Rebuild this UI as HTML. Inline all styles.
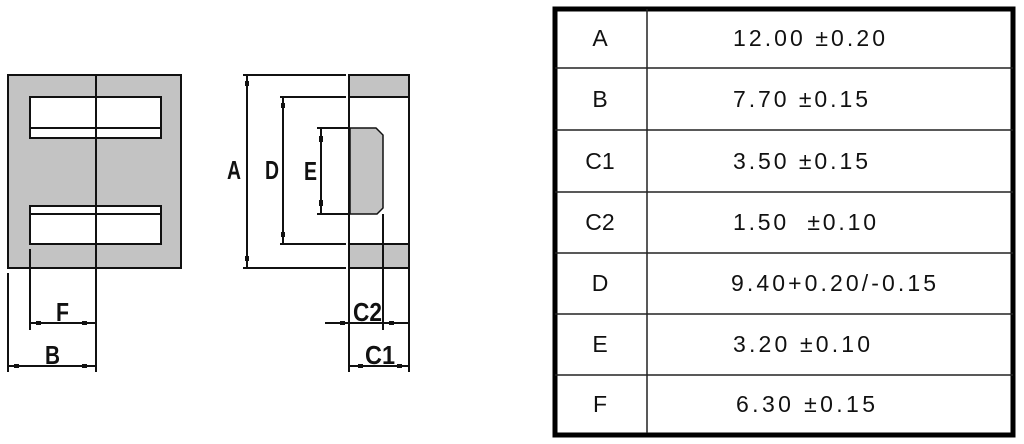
<!DOCTYPE html>
<html><head><meta charset="utf-8"><style>html,body{margin:0;padding:0;background:#fff;width:1024px;height:444px;overflow:hidden}</style></head>
<body>
<svg width="1024" height="444" viewBox="0 0 1024 444" xmlns="http://www.w3.org/2000/svg">
<g stroke="#111" stroke-width="2" fill="none">
<rect x="8" y="75" width="173" height="193" fill="#c3c3c3"/>
<rect x="30" y="97" width="131" height="41" fill="#fff"/>
<line x1="30" y1="128" x2="161" y2="128"/>
<rect x="30" y="206" width="131" height="38" fill="#fff"/>
<line x1="30" y1="214" x2="161" y2="214"/>
<line x1="96" y1="75" x2="96" y2="372"/>
<line x1="30" y1="249" x2="30" y2="330"/>
<line x1="8" y1="273" x2="8" y2="372"/>
<line x1="30" y1="323" x2="96" y2="323"/>
<line x1="8" y1="366" x2="96" y2="366"/>
<rect x="349" y="75" width="60" height="193" fill="#fff"/>
<rect x="350" y="76" width="58" height="21" fill="#c3c3c3" stroke="none"/>
<rect x="350" y="244" width="58" height="23" fill="#c3c3c3" stroke="none"/>
<line x1="349" y1="97" x2="409" y2="97"/>
<line x1="349" y1="244" x2="409" y2="244"/>
<path d="M350 128 H376 L383 135 V208 L377 214 H350 Z" fill="#c3c3c3" stroke-width="1.5"/>
<line x1="349" y1="268" x2="349" y2="372"/>
<line x1="409" y1="268" x2="409" y2="372"/>
<line x1="383" y1="214" x2="383" y2="330"/>
<line x1="243" y1="75" x2="346" y2="75"/>
<line x1="243" y1="268" x2="346" y2="268"/>
<line x1="247" y1="75" x2="247" y2="268"/>
<line x1="280" y1="97" x2="346" y2="97"/>
<line x1="280" y1="244" x2="346" y2="244"/>
<line x1="283" y1="97" x2="283" y2="244"/>
<line x1="317" y1="128" x2="349" y2="128"/>
<line x1="317" y1="214" x2="349" y2="214"/>
<line x1="321" y1="128" x2="321" y2="214"/>
<line x1="325" y1="323" x2="409" y2="323"/>
<line x1="349" y1="366" x2="409" y2="366"/>
</g>
<g fill="#111">
<rect x="36" y="321" width="5" height="4"/><rect x="82" y="321" width="5" height="4"/>
<rect x="14" y="364" width="5" height="4"/><rect x="82" y="364" width="5" height="4"/>
<rect x="245" y="81" width="4" height="5"/><rect x="245" y="256" width="4" height="5"/>
<rect x="281" y="103" width="4" height="5"/><rect x="281" y="232" width="4" height="5"/>
<rect x="319" y="136" width="4" height="6"/><rect x="319" y="200" width="4" height="6"/>
<rect x="340" y="321" width="5" height="4"/><rect x="389" y="321" width="5" height="4"/>
<rect x="358" y="364" width="5" height="4"/><rect x="397" y="364" width="5" height="4"/>
</g>
<g font-family="Liberation Sans, sans-serif" font-weight="bold" font-size="26" fill="#111" lengthAdjust="spacingAndGlyphs">
<text x="56" y="321" textLength="13" lengthAdjust="spacingAndGlyphs">F</text>
<text x="45" y="364" textLength="15" lengthAdjust="spacingAndGlyphs">B</text>
<text x="227" y="179" textLength="14" lengthAdjust="spacingAndGlyphs">A</text>
<text x="265" y="179" textLength="14" lengthAdjust="spacingAndGlyphs">D</text>
<text x="304" y="180" textLength="13" lengthAdjust="spacingAndGlyphs">E</text>
<text x="353" y="321" textLength="29" lengthAdjust="spacingAndGlyphs">C2</text>
<text x="365" y="364" textLength="30" lengthAdjust="spacingAndGlyphs">C1</text>
</g>
<rect x="555" y="9" width="458" height="426" fill="none" stroke="#000" stroke-width="5"/>
<g stroke="#222" stroke-width="1.5">
<line x1="647" y1="9" x2="647" y2="433"/>
<line x1="555" y1="68" x2="1013" y2="68"/>
<line x1="555" y1="130" x2="1013" y2="130"/>
<line x1="555" y1="192" x2="1013" y2="192"/>
<line x1="555" y1="253" x2="1013" y2="253"/>
<line x1="555" y1="314" x2="1013" y2="314"/>
<line x1="555" y1="375" x2="1013" y2="375"/>
</g>
<g font-family="Liberation Sans, sans-serif" font-size="23" fill="#111">
<g text-anchor="middle">
<text x="600" y="46">A</text><text x="600" y="107">B</text><text x="600" y="169">C1</text>
<text x="600" y="230">C2</text><text x="600" y="291">D</text><text x="600" y="352">E</text><text x="600" y="412">F</text>
</g>
<text x="733" y="46" textLength="152">12.00 ±0.20</text>
<text x="733" y="107" textLength="135">7.70 ±0.15</text>
<text x="733" y="169" textLength="135">3.50 ±0.15</text>
<text x="733" y="230" textLength="143" xml:space="preserve">1.50  ±0.10</text>
<text x="731" y="291" textLength="205">9.40+0.20/-0.15</text>
<text x="733" y="352" textLength="137">3.20 ±0.10</text>
<text x="736" y="412" textLength="139">6.30 ±0.15</text>
</g>
</svg>
</body></html>
